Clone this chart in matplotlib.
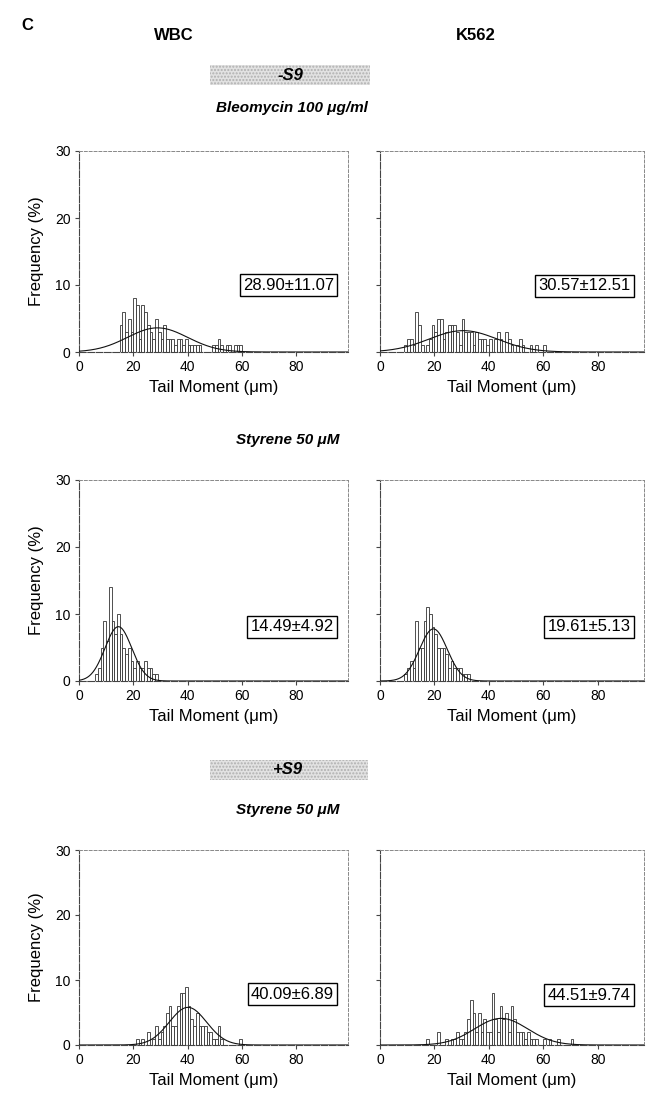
import numpy as np
import matplotlib
matplotlib.use("Agg")
import matplotlib.pyplot as plt
from matplotlib.patches import Rectangle

plt.rcParams['font.family'] = ['Liberation Sans', 'DejaVu Sans']

W, H = 646, 1096

# ---------------- data ----------------
# histogram bins (left edge, µm) and frequencies (%)
wbc_bleo_x = [15, 16, 17, 18, 19, 20, 21, 22, 23, 24, 25, 26, 27, 28, 29, 30, 31, 32, 33, 34,
              35, 36, 37, 38, 39, 40, 41, 42, 43, 44, 49, 50, 51, 52, 54, 55, 57, 58, 59]
wbc_bleo_y = [4, 6, 3, 5, 3, 8, 7, 2, 7, 6, 4, 3, 2, 5, 3, 2, 4, 2, 2, 2,
              1, 2, 2, 1, 2, 1, 1, 1, 1, 1, 1, 1, 2, 1, 1, 1, 1, 1, 1]

k562_bleo_x = [9, 10, 11, 12, 13, 14, 15, 17, 18, 19, 20, 21, 22, 23, 24, 25, 26, 27, 28, 29,
               30, 31, 32, 33, 34, 35, 36, 37, 38, 39, 40, 42, 43, 44, 46, 47, 48, 50, 51, 52,
               55, 57, 60]
k562_bleo_y = [1, 2, 2, 1, 6, 4, 1, 1, 2, 4, 3, 5, 5, 2, 3, 4, 4, 4, 3, 1,
               5, 3, 3, 3, 1, 3, 2, 2, 2, 1, 2, 2, 3, 2, 3, 2, 1, 1, 2, 1,
               1, 1, 1]

wbc_sty_x = [6, 7, 8, 9, 10, 11, 12, 13, 14, 15, 16, 17, 18, 19, 20, 21, 22, 23, 24, 25, 26, 27, 28]
wbc_sty_y = [1, 2, 5, 9, 6, 14, 9, 7, 10, 7, 5, 4, 5, 3, 2, 3, 2, 2, 3, 2, 2, 1, 1]

k562_sty_x = [9, 10, 11, 12, 13, 14, 15, 16, 17, 18, 19, 20, 21, 22, 23, 24, 25, 26, 27, 28,
              29, 30, 31, 32]
k562_sty_y = [1, 2, 3, 2, 9, 5, 5, 9, 11, 10, 8, 7, 5, 5, 5, 4, 2, 3, 2, 2,
              2, 1, 1, 1]

wbc_s9_x = [21, 23, 25, 27, 28, 29, 30, 31, 32, 33, 34, 35, 36, 37, 38, 39, 40, 41, 42, 43,
            44, 45, 46, 47, 48, 49, 50, 51, 52, 59]
wbc_s9_y = [1, 1, 2, 1, 3, 1, 2, 3, 5, 6, 3, 3, 6, 8, 8, 9, 6, 4, 3, 5,
            3, 3, 3, 2, 2, 1, 1, 3, 1, 1]

k562_s9_x = [17, 21, 24, 26, 27, 28, 29, 30, 31, 32, 33, 34, 35, 36, 37, 38, 39, 40, 41, 42,
             43, 44, 45, 46, 47, 48, 49, 50, 51, 52, 53, 54, 55, 56, 57, 60, 62, 65, 70]
k562_s9_y = [1, 2, 1, 1, 1, 2, 1, 1, 2, 4, 7, 5, 2, 5, 2, 4, 2, 2, 8, 4,
             2, 6, 4, 5, 2, 6, 4, 2, 2, 2, 1, 2, 1, 1, 1, 1, 1, 1, 1]

# fitted normal: mean, SD (shown in boxes)
means = [28.90, 30.57, 14.49, 19.61, 40.09, 44.51]
sds = [11.07, 12.51, 4.92, 5.13, 6.89, 9.74]
box_labels = ["28.90±11.07", "30.57±12.51", "14.49±4.92", "19.61±5.13", "40.09±6.89", "44.51±9.74"]

x_ticks = [0, 20, 40, 60, 80]
y_ticks = [0, 10, 20, 30]
col_titles = ["WBC", "K562"]
row_titles = ["Bleomycin 100 μg/ml", "Styrene 50 μM", "Styrene 50 μM"]
s9_labels = ["-S9", "+S9"]

hist_x = [wbc_bleo_x, k562_bleo_x, wbc_sty_x, k562_sty_x, wbc_s9_x, k562_s9_x]
hist_y = [wbc_bleo_y, k562_bleo_y, wbc_sty_y, k562_sty_y, wbc_s9_y, k562_s9_y]

# ---------------- layout ----------------
fig = plt.figure(figsize=(W / 100, H / 100), dpi=100)

def fx(px):
    return px / W

def fy(py):
    return 1 - py / H

col_px = [(79, 348, 99), (380, 644, 97)]          # left, right, xmax
row_px = [(352, 151), (681, 480), (1045, 850)]    # y of 0, y of 30
box_y = [0.333, 0.33, 0.27, 0.27, 0.26, 0.256]

idx = 0
for r, (y0, y1) in enumerate(row_px):
    for c, (x0, x1, xmax) in enumerate(col_px):
        ax = fig.add_axes([fx(x0), fy(y0), (x1 - x0) / W, (y0 - y1) / H])
        ax.bar(hist_x[idx], hist_y[idx], width=1.0, align='edge',
               facecolor='white', edgecolor='#333333', linewidth=0.6, zorder=2)
        xs = np.linspace(0, xmax, 600)
        m, s = means[idx], sds[idx]
        ys = 100.0 / (s * np.sqrt(2 * np.pi)) * np.exp(-0.5 * ((xs - m) / s) ** 2)
        ax.plot(xs, ys, color='#111111', linewidth=0.8, zorder=3)
        ax.set_xlim(0, xmax)
        ax.set_ylim(0, 30)
        ax.set_xticks(x_ticks)
        ax.set_yticks(y_ticks)
        ax.tick_params(axis='both', direction='out', length=3, width=0.8,
                       color='#444444', labelsize=10, pad=3)
        if c == 1:
            ax.set_yticklabels([])
        else:
            ax.set_ylabel("Frequency (%)", fontsize=12, labelpad=8)
        ax.set_xlabel("Tail Moment (μm)", fontsize=12, labelpad=4)
        for side in ['left', 'bottom']:
            ax.spines[side].set_color('#444444')
            ax.spines[side].set_linewidth(0.8)
            ax.spines[side].set_linestyle((0, (6, 1.5)))
        for side in ['top', 'right']:
            ax.spines[side].set_color('#888888')
            ax.spines[side].set_linewidth(0.7)
            ax.spines[side].set_linestyle((0, (3, 2)))
        ax.text(0.948, box_y[idx], box_labels[idx], transform=ax.transAxes,
                ha='right', va='center', fontsize=12, zorder=5,
                bbox=dict(boxstyle='square,pad=0.2', facecolor='white',
                          edgecolor='black', linewidth=1.0))
        idx += 1

# ---------------- headers ----------------
fig.text(fx(27), fy(25), "C", fontsize=12, fontweight='bold', ha='center', va='center')
fig.text(fx(174), fy(35), col_titles[0], fontsize=12, fontweight='bold', ha='center', va='center')
fig.text(fx(476), fy(35), col_titles[1], fontsize=12, fontweight='bold', ha='center', va='center')

def s9_box(label, ytop, ybot, xl, xr, xt):
    rect = Rectangle((fx(xl), fy(ybot)), (xr - xl) / W, (ybot - ytop) / H,
                     transform=fig.transFigure, facecolor='#e2e2e2',
                     edgecolor='#b0b0b0', hatch='.....', linewidth=0)
    fig.patches.append(rect)
    fig.text(fx(xt), fy((ytop + ybot) / 2), label, fontsize=12, fontweight='bold',
             fontstyle='italic', ha='center', va='center')

s9_box(s9_labels[0], 65, 85, 210, 370, 290)
s9_box(s9_labels[1], 760, 780, 210, 368, 288)

fig.text(fx(292), fy(108), row_titles[0], fontsize=11, fontweight='bold',
         fontstyle='italic', ha='center', va='center')
fig.text(fx(288), fy(440), row_titles[1], fontsize=11, fontweight='bold',
         fontstyle='italic', ha='center', va='center')
fig.text(fx(288), fy(810), row_titles[2], fontsize=11, fontweight='bold',
         fontstyle='italic', ha='center', va='center')

fig.savefig("out.png", dpi=100)
